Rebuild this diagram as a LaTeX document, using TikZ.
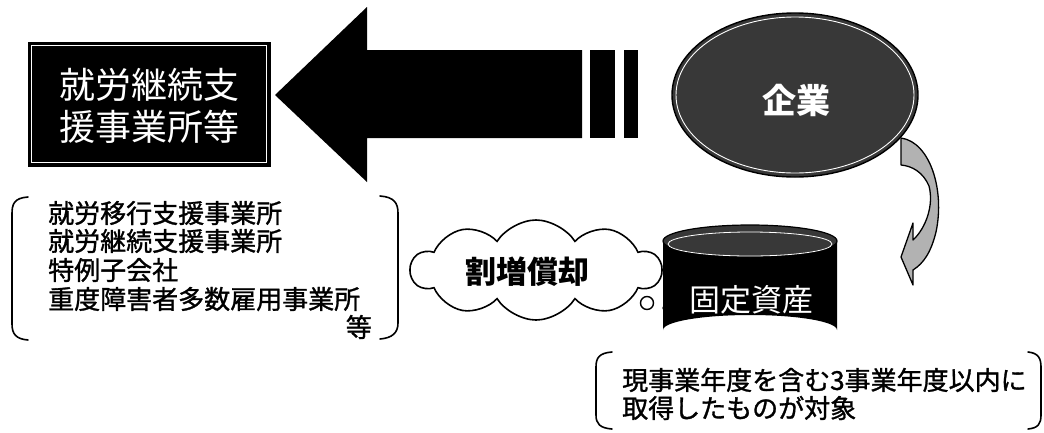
\documentclass[tikz,border=0pt]{standalone}
\usepackage{fontspec}
\newfontfamily\jp[FakeBold=1.2]{Noto Sans CJK JP}
\newfontfamily\jpr{Noto Sans CJK JP}
\usetikzlibrary{shapes.geometric,shapes.symbols}
\begin{document}
\begin{tikzpicture}[x=1pt,y=-1pt,
  jtxt/.style={font=\jp\fontsize{26}{28.6}\selectfont, inner sep=0pt, anchor=west},
  bigw/.style={font=\jpr\fontsize{36}{42}\selectfont, text=white, align=center, inner sep=0pt},
  brk/.style={line width=1.6pt, line cap=round},
  dark/.style={fill=black!78},
  rim/.style={draw=white, line width=0.9pt}]
\useasboundingbox[fill=white] (0,0) rectangle (1044,432);

% left box
\node[draw=black, fill=black, minimum width=242, minimum height=124, inner sep=0] (box) at (149,104) {};
\draw[white, line width=0.8pt] ([shift={(4,4)}]box.north west) rectangle ([shift={(-4,-4)}]box.south east);
\node[bigw] (boxtxt) at (149,106) {就労継続支\\援事業所等};

% big arrow
\fill[black] (275,95) -- (367,7) -- (367,50) -- (582,50) -- (582,138) -- (367,138) -- (367,182) -- cycle;
\fill[black] (590,50) rectangle (615,138);
\fill[black] (624,50) rectangle (638,138);

% ellipse
\node[ellipse, draw=black, line width=1.4pt, dark, minimum width=246, minimum height=164, inner sep=0] (corp) at (795,95) {};
\draw[rim] (795,95) ellipse [x radius=119, y radius=78];
\node[font=\jpr\bfseries\fontsize{34}{34}\selectfont, text=white] (corptxt) at (796,100) {企業};

% curved arrow
\draw[line width=1.3pt, fill=black!30, line join=round]
  (901,138) .. controls (930,142) and (945,190) .. (936,232)
  .. controls (931,252) and (924,263) .. (913,270) -- (913,285) -- (901,257) -- (913,223) -- (913,240)
  .. controls (926,228) and (934,205) .. (929,186)
  .. controls (923,172) and (912,166) .. (901,165) -- cycle;

% cylinder
\fill[black] (663,241) -- (663,330) arc[start angle=180, end angle=360, x radius=87, y radius=15] -- (837,241) -- cycle;
\node[ellipse, draw=black, line width=1.2pt, dark, minimum width=174, minimum height=32, inner sep=0] (cyltop) at (750,241) {};
\draw[white, line width=0.8pt] (750,244) ellipse [x radius=82, y radius=12];
\node[font=\jpr\fontsize{31}{31}\selectfont, text=white] (cyltxt) at (751,300) {固定資産};

% cloud
\node[cloud, cloud puffs=10, cloud puff arc=115, aspect=2.5, draw=black, line width=1.6pt, fill=white,
  minimum width=250, minimum height=100, inner sep=0] (cloud) at (536,270) {};
\node[font=\jpr\bfseries\fontsize{31}{31}\selectfont] (cloudtxt) at (527,272) {割増償却};
\draw[line width=1.4pt] (647,303) circle (6.5);
\draw[line width=1.2pt] (667,308) circle (4);
\fill (679,313) circle (1.6);

% left bracket text
\draw[brk] (28,197) .. controls (14,198) and (12,204) .. (12,214) -- (12,324) .. controls (12,334) and (16,339) .. (28,340);
\draw[brk] (380,196) .. controls (394,197) and (398,203) .. (398,213) -- (398,323) .. controls (398,333) and (392,338) .. (380,339);
\node[jtxt] (l1) at (48,213) {就労移行支援事業所};
\node[jtxt] (l2) at (48,241) {就労継続支援事業所};
\node[jtxt] (l3) at (48,270) {特例子会社};
\node[jtxt] (l4) at (48,299) {重度障害者多数雇用事業所};
\node[jtxt, anchor=east] (l5) at (372,327) {等};

% bottom bracket text
\draw[brk] (612,352) .. controls (599,353) and (596,358) .. (596,367) -- (596,415) .. controls (596,424) and (600,428) .. (612,429);
\draw[brk] (1028,352) .. controls (1038,353) and (1041,358) .. (1041,367) -- (1041,415) .. controls (1041,424) and (1038,428) .. (1028,429);
\node[jtxt] (b1) at (622,380) {現事業年度を含む3事業年度以内に};
\node[jtxt] (b2) at (622,408) {取得したものが対象};
\end{tikzpicture}
\end{document}
